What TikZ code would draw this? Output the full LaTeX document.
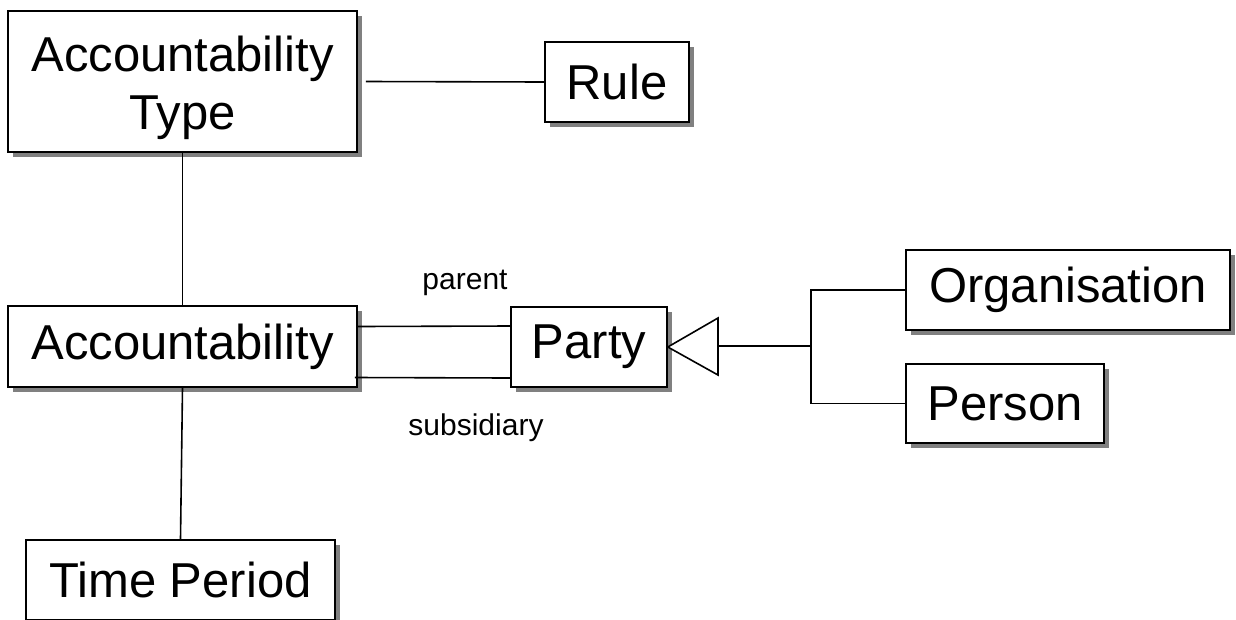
\documentclass[tikz,border=0pt]{standalone}
\usepackage{fontspec}
\setmainfont{Liberation Sans}
\usetikzlibrary{shadows}
\tikzset{
  cls/.style={draw, fill=white, line width=1.6pt, inner sep=0pt, minimum height=80pt,
    align=center, font=\fontsize{49}{58}\selectfont,
    drop shadow={shadow xshift=5pt, shadow yshift=-5pt, fill=black!50, opacity=1}},
  role/.style={font=\fontsize{30}{32}\selectfont},
  assoc/.style={line width=1.6pt}
}
\begin{document}
\begin{tikzpicture}[x=1pt, y=-1pt]
\useasboundingbox (0,0) rectangle (1236,619);
\clip (0,0) rectangle (1236,619);
\node[cls, minimum width=349pt, minimum height=141pt] (acctype) at (182.5,81.5){\rule{0pt}{48pt}Accountability\\Type};
\node[cls, minimum width=144pt] (rule) at (617,82){Rule};
\node[cls, minimum width=349pt, minimum height=81pt] (acc) at (182.5,346.5){Accountability};
\node[cls, minimum width=156pt] (party) at (589,347){Party};
\node[cls, minimum width=324pt] (org) at (1068,290){Organisation};
\node[cls, minimum width=198pt, minimum height=79pt] (person) at (1005,403.5){Person};
\node[cls, minimum width=309pt] (period) at (180.5,580){Time Period};
\draw[assoc]([xshift=8pt]acctype.east) -- (rule.west);
\draw[assoc](acctype.south) -- (acc.north);
\draw[assoc](acc.south) -- (period.north);
\draw[assoc]([yshift=20pt]acc.east) -- ([yshift=21pt]party.west);
\draw[assoc]([xshift=-3pt,yshift=-31pt]acc.east) -- ([yshift=-31pt]party.west);
\node[role] (parent) at (465,283){parent};
\node[role] (subsidiary) at (476,428){subsidiary};
% generalisation
\coordinate (gen) at (718,346);
\coordinate (fork) at (811,346);
\draw[assoc, fill=white](party.east) -- (gen |- 0,318) -- (gen |- 0,375) -- cycle;
\draw[assoc](gen) -- (fork);
\draw[assoc](fork) |- (org.west);
\draw[assoc](fork) |- (person.west);
\end{tikzpicture}
\end{document}
